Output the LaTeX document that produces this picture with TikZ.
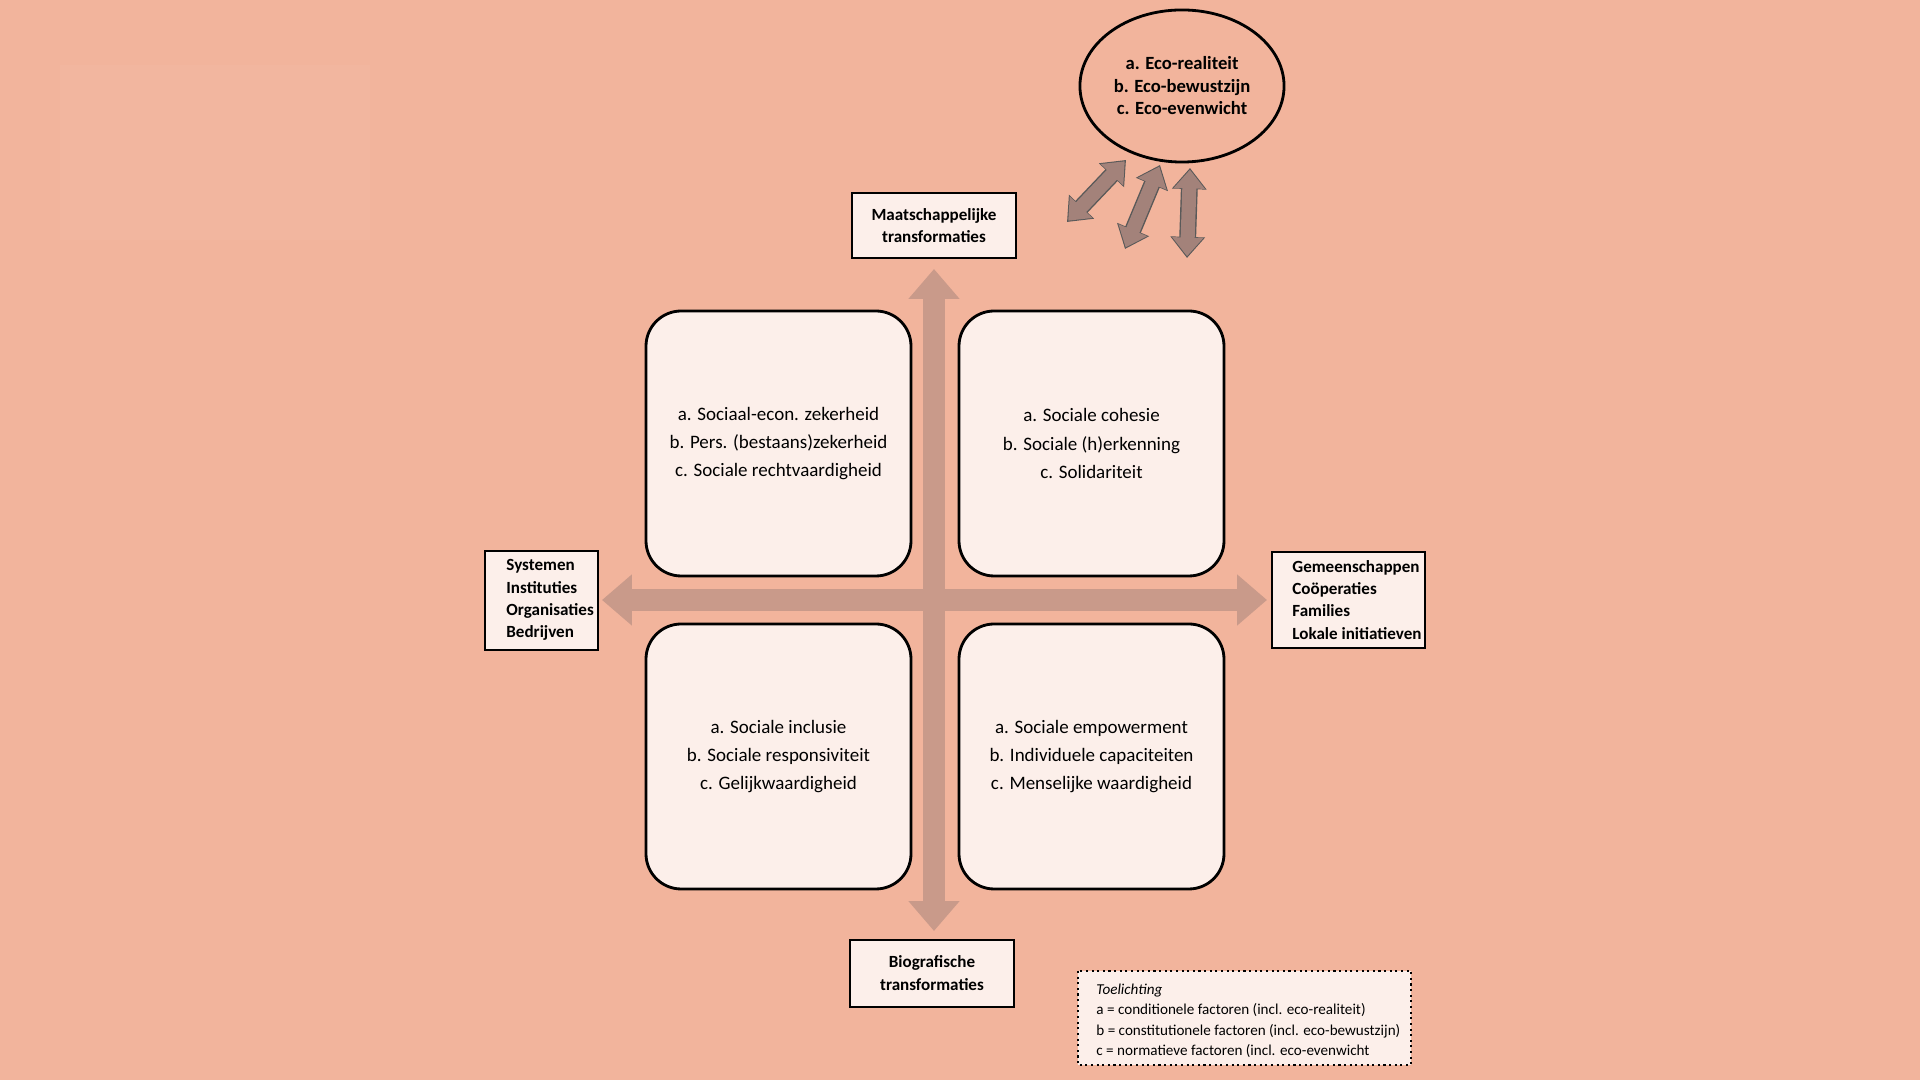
\documentclass[tikz,border=0pt]{standalone}
\usepackage{fontspec}
\setmainfont{Carlito}
\usetikzlibrary{arrows.meta,shapes.geometric}
\definecolor{bg}{HTML}{F2B49C}
\definecolor{boxf}{HTML}{FCEFEA}
\definecolor{bigarr}{HTML}{C99A8A}
\definecolor{smallarr}{HTML}{A3827A}
\begin{document}
\begin{tikzpicture}[x=0.01cm,y=-0.01cm,
 qtext/.style={font=\fontsize{5.4}{8}\selectfont,align=center},
 labf/.style={font=\bfseries\fontsize{4.85}{6.3}\selectfont},
 boxd/.style={line width=0.6pt,fill=boxf}]
\fill[bg] (0,0) rectangle (1920,1080);
\fill[white,opacity=0.035] (60,65) rectangle (370,240);
% big axes
\coordinate (vt) at (934,269); \coordinate (vb) at (934,931);
\coordinate (hl) at (602,600); \coordinate (hr) at (1267,600);
\draw[bigarr,line width=6.2pt,{Triangle[width=14pt,length=8.5pt]}-{Triangle[width=14pt,length=8.5pt]}] (vt) -- (vb);
\draw[bigarr,line width=6.2pt,{Triangle[width=14pt,length=8.5pt]}-{Triangle[width=14pt,length=8.5pt]}] (hl) -- (hr);
% quadrants
\foreach \n/\x/\y/\t in {q1/646/311/{a. Sociaal-econ. zekerheid\\b. Pers. (bestaans)zekerheid\\c. Sociale rechtvaardigheid},
 q2/959/311/{a. Sociale cohesie\\b. Sociale (h)erkenning\\c. Solidariteit},
 q3/646/624/{a. Sociale inclusie\\b. Sociale responsiviteit\\c. Gelijkwaardigheid},
 q4/959/624/{a. Sociale empowerment\\b. Individuele capaciteiten\\c. Menselijke waardigheid}}{
 \draw[line width=0.8pt,fill=boxf,rounded corners=10pt] (\x,\y) rectangle ++(265,265);
 \node[qtext] (\n) at (\x+132.5,\y+132.5) {\t};
}
% labels
\draw[boxd] (852,193) rectangle (1016,258);
\node[labf,align=center] (maat) at (934,226) {Maatschappelijke\\transformaties};
\draw[boxd] (850,940) rectangle (1014,1007);
\node[labf,align=center] (bio) at (932,973) {Biografische\\transformaties};
\draw[boxd] (485,551) rectangle (598,650);
\node[labf,align=left,anchor=west] (sys) at (494,600) {Systemen\\Instituties\\Organisaties\\Bedrijven};
\draw[boxd] (1272,552) rectangle (1425,648);
\node[labf,align=left,anchor=west] (gem) at (1280,600) {Gemeenschappen\\Coöperaties\\Families\\Lokale initiatieven};
% ellipse
\node[ellipse,draw=black,line width=0.8pt,minimum width=2.04cm,minimum height=1.52cm,inner sep=0pt] (eco) at (1182,86) {};
\node[font=\bfseries\fontsize{5.3}{6.4}\selectfont,align=center] (ecot) at (1182,86) {a. Eco-realiteit\\b. Eco-bewustzijn\\c. Eco-evenwicht};
% small arrows
\coordinate (a1s) at (1067,222); \coordinate (a1e) at (1126,160);
\coordinate (a2s) at (1125,249); \coordinate (a2e) at (1160,165);
\coordinate (a3s) at (1187,258); \coordinate (a3e) at (1190,168);
\foreach \s/\e in {a1s/a1e,a2s/a2e,a3s/a3e}{
 \draw[draw=black!65,line width=4.8pt,{Triangle[width=9.5pt,length=6pt]}-{Triangle[width=9.5pt,length=6pt]}] (\s) -- (\e);
 \draw[smallarr,line width=4pt,shorten <=0.5pt,shorten >=0.5pt,{Triangle[width=8.5pt,length=5.3pt]}-{Triangle[width=8.5pt,length=5.3pt]}] (\s) -- (\e);
}
% legend
\draw[densely dotted,line width=0.6pt,fill=boxf] (1078,971) rectangle (1411,1065);
\node[font=\fontsize{4.3}{5.7}\selectfont,align=left,anchor=north west] (leg) at (1084,972) {\textit{Toelichting}\\a = conditionele factoren (incl. eco-realiteit)\\b = constitutionele factoren (incl. eco-bewustzijn)\\c = normatieve factoren (incl. eco-evenwicht};
\end{tikzpicture}
\end{document}
